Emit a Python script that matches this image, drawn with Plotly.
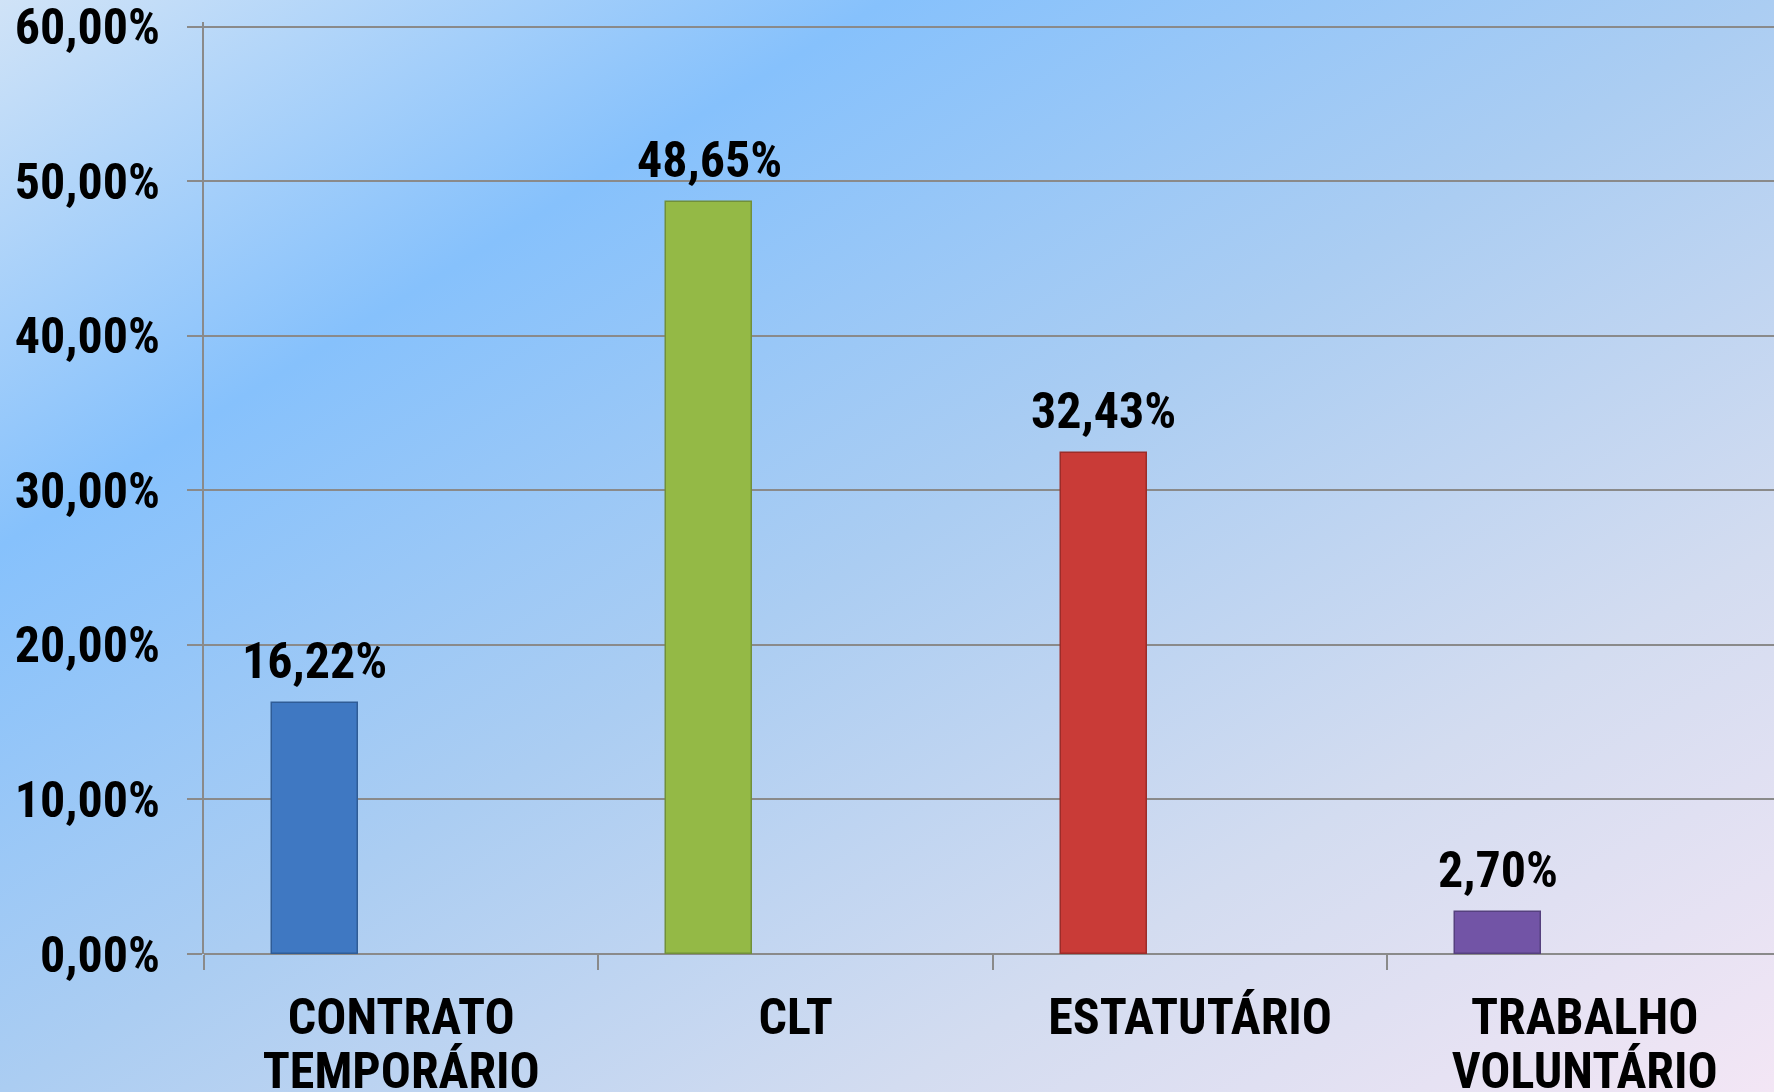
import base64
import plotly.graph_objects as go

categories = ["CONTRATO TEMPORÁRIO", "CLT", "ESTATUTÁRIO", "TRABALHO VOLUNTÁRIO"]
label_line1 = ["CONTRATO", "CLT", "ESTATUTÁRIO", "TRABALHO"]
label_line2 = ["TEMPORÁRIO", "", "", "VOLUNTÁRIO"]
values = [0.1622, 0.4865, 0.3243, 0.0270]
bar_colors = ["#3f78c2", "#94b946", "#c93b37", "#7254a6"]
bar_edges = ["#2f5c96", "#71903a", "#9c2c29", "#55407e"]
y_ticks = [0, 0.1, 0.2, 0.3, 0.4, 0.5, 0.6]

W, H = 1774, 1092
Y_MAX = 0.603
Y0_PX, Y60_PX = 954, 27
PH = (Y0_PX - Y60_PX) * Y_MAX / 0.6
ML, MB = 204, H - Y0_PX
MT = Y0_PX - PH
FONT = "Liberation Sans Narrow, Arial Narrow, Roboto Condensed, Liberation Sans, sans-serif"
BAR_OFFSET = -0.328
BAR_WIDTH = 0.218
GREY = "#8a8a8a"

svg = f"""<svg xmlns='http://www.w3.org/2000/svg' width='{W}' height='{H}' viewBox='0 0 {W} {H}' preserveAspectRatio='none'>
<defs><linearGradient id='g' x1='0' y1='0' x2='1' y2='1'>
<stop offset='0' stop-color='#d0e3f7'/>
<stop offset='0.25' stop-color='#86c1fc'/>
<stop offset='0.5' stop-color='#abcdf2'/>
<stop offset='0.75' stop-color='#d3dcf0'/>
<stop offset='1' stop-color='#f3e6f5'/>
</linearGradient></defs>
<rect x='0' y='0' width='{W}' height='{H}' fill='url(#g)'/></svg>"""
bg_uri = "data:image/svg+xml;base64," + base64.b64encode(svg.encode()).decode()

fig = go.Figure()
fig.add_trace(go.Bar(
    x=categories, y=values,
    offset=BAR_OFFSET, width=BAR_WIDTH,
    marker=dict(color=bar_colors, line=dict(color=bar_edges, width=1.5)),
    hoverinfo="skip", showlegend=False,
))
# invisible trace to carry the second line of category labels
fig.add_trace(go.Bar(
    x=categories, y=[None] * len(categories), xaxis="x2",
    hoverinfo="skip", showlegend=False,
))

for i, v in enumerate(values):
    fig.add_annotation(
        x=i + BAR_OFFSET + BAR_WIDTH / 2, y=v, xref="x", yref="y",
        text=f"{v*100:.2f}%".replace(".", ","),
        showarrow=False, yanchor="bottom", yshift=11,
        font=dict(family=FONT, size=50, color="#000000", weight="bold"),
    )

pw = W - ML
fig.add_layout_image(dict(
    source=bg_uri, xref="paper", yref="paper",
    x=-ML / pw, y=1 + MT / PH, sizex=W / pw, sizey=H / PH,
    xanchor="left", yanchor="top", sizing="stretch", layer="below",
))

fig.update_layout(
    width=W, height=H,
    margin=dict(l=ML, r=0, t=MT, b=MB, pad=0, autoexpand=False),
    paper_bgcolor="#b0cff2", plot_bgcolor="rgba(0,0,0,0)",
    separators=",.",
    bargap=0,
    font=dict(family=FONT, size=48, color="#000000", weight="bold"),
    xaxis=dict(
        type="category", range=[-0.5, 3.48], tickson="boundaries", automargin=False,
        tickmode="array", tickvals=categories, ticktext=label_line1,
        ticks="outside", ticklen=15, tickwidth=2, tickcolor=GREY,
        showline=False, showgrid=False, zeroline=False,
        tickfont=dict(family=FONT, size=50, color="#000000", weight="bold"),
        ticklabelstandoff=29,
    ),
    xaxis2=dict(
        type="category", range=[-0.5, 3.48], overlaying="x", anchor="y", side="bottom",
        automargin=False,
        tickmode="array", tickvals=categories, ticktext=label_line2,
        ticks="", showline=False, showgrid=False, zeroline=False,
        tickfont=dict(family=FONT, size=50, color="#000000", weight="bold"),
        ticklabelstandoff=83,
    ),
    yaxis=dict(
        range=[0, Y_MAX], tickvals=y_ticks, tickformat=".2%", automargin=False,
        ticks="outside", ticklen=15, tickwidth=2, tickcolor=GREY,
        showline=True, linecolor=GREY, linewidth=2,
        showgrid=True, gridcolor=GREY, gridwidth=2,
        zeroline=True, zerolinecolor=GREY, zerolinewidth=2,
        tickfont=dict(family=FONT, size=50, color="#000000", weight="bold"),
        ticklabelstandoff=17, ticklabeloverflow="allow",
    ),
)

fig.write_html(
    "out.html",
    config={"displayModeBar": False},
    post_script="document.body.style.margin='0';document.body.style.overflow='hidden';",
)
